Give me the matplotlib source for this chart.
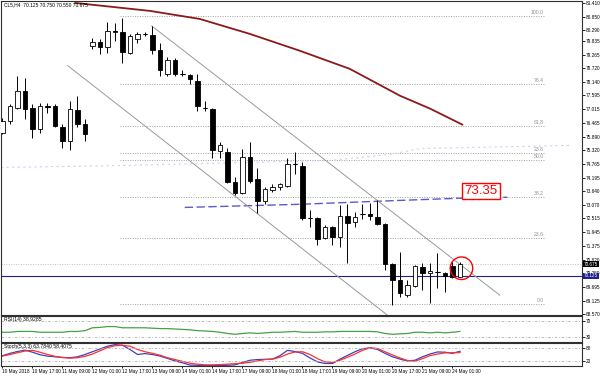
import numpy as np
import matplotlib
matplotlib.use("Agg")
import matplotlib.pyplot as plt
from matplotlib.patches import Ellipse
import matplotlib.transforms as mtransforms

plt.rcParams["font.family"] = ["Liberation Sans", "DejaVu Sans"]

# H4 candles
opens = [76.06, 76.55, 77.09, 77.79, 77.09, 76.22, 77.17, 77.17, 76.31, 75.73,
         77.01, 76.43, 79.64, 79.80, 79.60, 80.22, 80.22, 79.35, 79.93, 80.13,
         80.09, 79.47, 78.49, 79.06, 78.49, 78.45, 78.20, 77.09, 77.05, 75.28,
         75.24, 74.00, 73.55, 75.07, 74.13, 73.22, 73.68, 73.80, 73.84, 74.78,
         74.70, 72.52, 72.52, 71.70, 72.15, 71.74, 72.60, 72.35, 72.68, 72.68,
         72.56, 72.27, 70.63, 69.97, 69.35, 69.72, 70.50, 70.26, 70.30, 70.26,
         70.55, 70.09]
highs = [76.68, 77.25, 78.41, 78.32, 77.25, 77.30, 77.30, 77.25, 76.43, 77.38,
         77.58, 76.60, 79.97, 79.93, 80.63, 80.59, 80.79, 80.13, 80.22, 80.22,
         80.46, 79.76, 79.19, 79.15, 78.65, 78.49, 78.49, 77.38, 77.09, 75.69,
         75.44, 74.21, 75.40, 75.65, 74.58, 73.80, 73.92, 73.96, 74.99, 75.24,
         74.83, 72.85, 72.56, 72.23, 72.19, 73.05, 73.10, 72.77, 73.10, 73.14,
         73.26, 72.31, 70.67, 71.12, 69.97, 70.59, 70.67, 70.67, 71.08, 70.30,
         70.71, 70.71]
lows = [75.98, 76.43, 77.05, 76.64, 75.85, 76.06, 76.88, 76.27, 75.44, 75.32,
        76.27, 75.73, 79.52, 79.31, 79.35, 79.85, 78.94, 79.31, 79.76, 80.05,
        79.31, 78.41, 78.41, 78.41, 78.41, 78.08, 76.97, 76.97, 75.03, 74.99,
        73.96, 73.47, 73.51, 73.96, 72.73, 73.10, 73.59, 73.68, 73.80, 74.37,
        72.44, 72.15, 71.41, 71.66, 71.41, 71.33, 70.67, 72.15, 72.48, 72.44,
        72.23, 70.40, 68.94, 69.27, 69.27, 69.68, 69.56, 69.02, 69.64, 69.47,
        70.05, 70.09]
closes = [76.55, 77.17, 77.79, 77.05, 76.22, 77.17, 77.13, 76.35, 75.73, 77.05,
          76.43, 75.98, 79.80, 79.60, 80.26, 80.26, 79.39, 80.05, 80.13, 80.13,
          79.47, 78.65, 79.06, 78.49, 78.49, 78.28, 77.17, 77.09, 75.32, 75.53,
          74.00, 73.55, 75.07, 74.08, 73.22, 73.72, 73.80, 73.92, 74.78, 74.78,
          72.52, 72.52, 71.66, 72.15, 71.74, 72.60, 72.31, 72.56, 72.68, 72.60,
          72.27, 70.63, 69.97, 69.43, 69.76, 70.55, 70.26, 70.34, 70.30, 70.14,
          70.09, 70.63]

# moving average (red)
ma_bar = [9.7, 19.7, 26.3, 33.0, 39.7, 46.3, 53.0, 57.0, 61.3]
ma_val = [81.41, 81.08, 80.75, 80.13, 79.43, 78.69, 77.58, 77.05, 76.39]

# blue dashed trend line ending at the 73.35 label
tl_bar = [24.3, 39.7, 53.0, 61.0, 67.3]
tl_val = [72.97, 73.10, 73.26, 73.35, 73.39]

# faint lavender line
lav_bar = [-0.2, 15.7, 43.7, 51.7, 55.7, 75.7]
lav_val = [74.62, 74.70, 74.91, 75.16, 75.40, 75.53]

# channel lines
ch_up_bar, ch_up_val = [19.9, 66.3], [80.46, 69.35]
ch_lo_bar, ch_lo_val = [8.7, 51.3], [78.82, 68.53]

# fibonacci levels
fib_val = [80.875, 78.06, 76.35, 75.20, 74.91, 73.39, 71.70, 68.98]
fib_lbl = ["100.0", "76.4", "61.8", "23.6", "50.0", "38.2", "23.6", "0.0"]

price_ticks = ["81.410", "80.850", "80.290", "79.835", "79.265", "78.720",
               "78.140", "77.595", "77.015", "76.465", "75.890", "75.320",
               "74.765", "74.195", "73.640", "73.070", "72.515", "71.945",
               "71.375", "70.820", "70.250", "69.695", "69.125", "68.570"]

rsi = [42, 42, 44, 44, 44, 42, 42, 42, 42, 44, 44, 46, 53, 54, 56, 56, 53, 53,
       53, 53, 52, 51, 51, 50, 49, 48, 46, 45, 44, 42, 39, 37, 39, 40.5, 39,
       40.5, 42, 42, 43, 44, 42, 42, 42, 43, 43, 44, 44, 44, 44, 44, 43, 39, 37,
       38, 39, 42, 42, 40.5, 42, 40.5, 42, 44]
stoch_k = [45, 55, 63, 69, 60, 49, 43, 40, 37, 36, 40, 50, 62, 74, 86, 93, 90,
           72, 50, 54, 50, 43, 33, 22, 14, 4, 3, 2, 2, 2, 3, 5, 15, 25, 28, 29,
           30, 45, 68, 63, 55, 35, 18, 11, 11, 30, 46, 62, 75, 79, 72, 55, 40,
           30, 22, 25, 40, 52, 61, 60, 55, 64]
stoch_d = [43, 50, 58, 65, 68, 60, 50, 42, 37, 34, 36, 42, 52, 66, 80, 88, 90,
           86, 72, 62, 55, 47, 36, 28, 20, 12, 8, 5, 5, 6, 8, 10, 12, 16, 22, 28,
           30, 38, 52, 61, 62, 50, 32, 18, 15, 25, 38, 52, 68, 79, 76, 62, 48,
           35, 24, 21, 32, 45, 52, 57, 58, 58]

time_bars = list(range(0, 64, 4))
time_lbl = ["10 May 2018", "10 May 17:00", "11 May 09:00", "12 May 01:00",
            "12 May 17:00", "13 May 09:00", "14 May 01:00", "14 May 17:00",
            "17 May 09:00", "18 May 01:00", "18 May 17:00", "19 May 09:00",
            "20 May 01:00", "20 May 17:00", "21 May 09:00", "24 May 01:00"]

FS = 3.7
DOT = (0, (1, 1.5))
XL = (-0.2, 77.27)

fig = plt.figure(figsize=(6, 3.76), dpi=100)
ax = fig.add_axes([1 / 600, 1 - 315 / 376, 581 / 600, 314 / 376])
ax_rsi = fig.add_axes([1 / 600, 1 - 342 / 376, 581 / 600, 26 / 376])
ax_sto = fig.add_axes([1 / 600, 1 - 366 / 376, 581 / 600, 23 / 376])

x = np.arange(len(opens))
o, h, l, c = map(np.array, (opens, highs, lows, closes))

# guide lines
for v, t in zip(fib_val, fib_lbl):
    ax.plot([15.7, 72.3], [v, v], color="#a0a0a0", lw=0.7, ls=DOT, zorder=1)
    ax.text(72.2, v + 0.04, t, fontsize=FS, color="#909090", ha="right", va="bottom")
ax.axhline(70.63, color="#c0c0c0", lw=0.7, ls=DOT, zorder=1)
ax.axhline(70.14, color="#202090", lw=0.8, zorder=1)
ax.plot(lav_bar, lav_val, color="#cfcff2", lw=0.8, ls=(0, (2, 3)), zorder=1)
ax.plot(tl_bar, tl_val, color="#5a5ac8", lw=1.0, ls=(0, (6, 2.5)), zorder=1)
ax.plot(ch_up_bar, ch_up_val, color="#999999", lw=0.7, zorder=1)
ax.plot(ch_lo_bar, ch_lo_val, color="#999999", lw=0.7, zorder=1)
ax.plot(ma_bar, ma_val, color="#8b1a1a", lw=1.3, zorder=2)

# candles
ax.vlines(x, l, h, color="black", lw=0.7, zorder=3)
body = np.abs(c - o)
up = c >= o
ax.bar(x, np.maximum(body, 0.001), bottom=np.minimum(o, c), width=0.57,
       color=np.where(up, "white", "black"), edgecolor="black", linewidth=0.6, zorder=4)
doji = body < 0.05
ax.hlines(c[doji], x[doji] - 0.33, x[doji] + 0.33, color="black", lw=0.8, zorder=4)

ax.add_patch(Ellipse((61.2, 70.46), 3.0, 0.93, fill=False, ec="red", lw=1.0, zorder=5))
ax.text(63.8, 73.63, "73.35", fontsize=9.5, color="red", ha="center", va="center",
        bbox=dict(boxstyle="square,pad=0.15", fc="white", ec="red", lw=1.0), zorder=6)
ax.text(0.005, 0.997, "CL5,H4  70.125 70.750 70.550 70.675", transform=ax.transAxes,
        fontsize=3.5, ha="left", va="top")

ax.set_xlim(*XL)
ax.set_ylim(68.53, 81.49)
ax.yaxis.tick_right()
ax.set_yticks([float(t) for t in price_ticks])
ax.set_yticklabels(price_ticks)
ax.set_xticks([])

trans = mtransforms.blended_transform_factory(ax.transAxes, ax.transData)
ax.text(1.003, 70.63, "70.675", transform=trans, fontsize=3.3, color="white",
        va="center", ha="left", zorder=7,
        bbox=dict(boxstyle="square,pad=0.15", fc="black", ec="none"))
ax.text(1.003, 70.14, "70.125", transform=trans, fontsize=3.3, color="white",
        va="center", ha="left", zorder=7,
        bbox=dict(boxstyle="square,pad=0.15", fc="#202090", ec="none"))

# RSI
ax_rsi.plot(x, rsi, color="#46a046", lw=0.9)
for v in (70, 30):
    ax_rsi.axhline(v, color="#b0b0b0", lw=0.6, ls=(0, (3, 2, 1, 2)))
ax_rsi.set_xlim(*XL)
ax_rsi.set_ylim(18, 82)
ax_rsi.yaxis.tick_right()
ax_rsi.set_yticks([70, 30])
ax_rsi.set_xticks([])
ax_rsi.text(0.005, 0.95, "RSI(14) 38.9285", transform=ax_rsi.transAxes,
            fontsize=FS, ha="left", va="top")

# Stochastic
ax_sto.plot(x, stoch_k, color="#4040c0", lw=0.9)
ax_sto.plot(x, stoch_d, color="#ff3030", lw=0.9)
for v in (80, 20):
    ax_sto.axhline(v, color="#b0b0b0", lw=0.6, ls=(0, (3, 2, 1, 2)))
ax_sto.set_xlim(*XL)
ax_sto.set_ylim(0, 100)
ax_sto.yaxis.tick_right()
ax_sto.set_yticks([80, 20])
ax_sto.set_xticks(time_bars)
ax_sto.set_xticklabels(time_lbl, ha="left")
ax_sto.text(0.005, 0.95, "Stoch(5,3,3) 63.7840 58.4075", transform=ax_sto.transAxes,
            fontsize=FS, ha="left", va="top")

for a in (ax, ax_rsi, ax_sto):
    a.tick_params(labelsize=3.4, length=2, width=0.6, pad=1.0)
    for s in a.spines.values():
        s.set_linewidth(0.8)
        s.set_color("#303030")
ax_sto.tick_params(axis="x", labelsize=3.4, length=1.5, pad=0.6)

fig.savefig("out.png", dpi=100)
